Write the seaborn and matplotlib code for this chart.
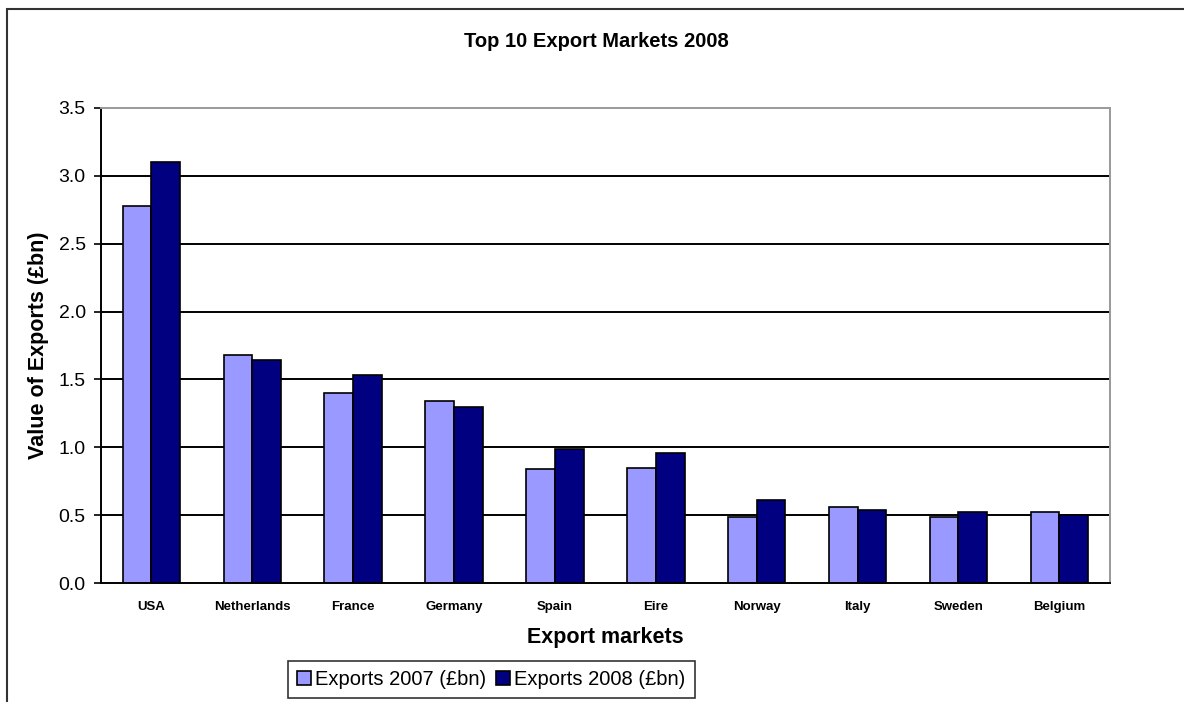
import numpy as np
import pandas as pd
import matplotlib.pyplot as plt
import seaborn as sns
from matplotlib.patches import Rectangle

markets = ["USA", "Netherlands", "France", "Germany", "Spain",
           "Eire", "Norway", "Italy", "Sweden", "Belgium"]
exports_2007 = [2.78, 1.68, 1.40, 1.34, 0.84, 0.85, 0.49, 0.56, 0.49, 0.52]
exports_2008 = [3.10, 1.64, 1.53, 1.30, 0.99, 0.96, 0.61, 0.54, 0.52, 0.50]
series_names = ["Exports 2007 (£bn)", "Exports 2008 (£bn)"]
y_ticks = [0.0, 0.5, 1.0, 1.5, 2.0, 2.5, 3.0, 3.5]


def run_export_chart():

    df = pd.DataFrame({
        "market": markets * 2,
        "value": exports_2007 + exports_2008,
        "series": [series_names[0]] * len(markets) + [series_names[1]] * len(markets)
    })

    sns.set_style("white")
    plt.rcParams["font.family"] = ["Liberation Sans", "DejaVu Sans"]
    plt.rcParams["text.color"] = "black"
    plt.rcParams["axes.labelcolor"] = "black"
    plt.rcParams["xtick.color"] = "black"
    plt.rcParams["ytick.color"] = "black"

    fig = plt.figure(figsize=(11.84, 7.02), dpi=100)
    ax = fig.add_axes([0.0853, 0.1695, 0.852, 0.6767])

    for y in y_ticks[1:-1]:
        ax.axhline(y, color="black", linewidth=1.4, zorder=0)

    sns.barplot(
        data=df,
        x="market",
        y="value",
        hue="series",
        palette=["#9999FF", "#000080"],
        width=0.571,
        edgecolor="black",
        linewidth=1.2,
        saturation=1,
        ax=ax,
        zorder=2
    )

    ax.set_ylim(0, 3.5)
    ax.set_xlim(-0.5, len(markets) - 0.5)
    ax.set_yticks(y_ticks)
    ax.set_yticklabels([f"{v:.1f}" for v in y_ticks], fontsize=14)
    ax.set_xticks(range(len(markets)))
    ax.set_xticklabels(markets, fontsize=9.5, fontweight="bold")
    ax.set_xticks(np.arange(-0.5, len(markets), 1), minor=True)
    ax.tick_params(axis="x", which="major", length=0, pad=13)
    ax.tick_params(axis="x", which="minor", length=5, width=1.2, direction="out")
    ax.tick_params(axis="y", length=5, width=1.2, direction="out", left=True, pad=6)

    for side in ["left", "bottom"]:
        ax.spines[side].set_color("black")
        ax.spines[side].set_linewidth(1.4)
    for side in ["top", "right"]:
        ax.spines[side].set_visible(True)
        ax.spines[side].set_color("#999999")
        ax.spines[side].set_linewidth(1.4)

    ax.set_xlabel("Export markets", fontsize=15.5, fontweight="bold", labelpad=10)
    ax.set_ylabel("Value of Exports (£bn)", fontsize=15.5, fontweight="bold", labelpad=7)
    fig.text(0.504, 0.941, "Top 10 Export Markets 2008",
             ha="center", va="center", fontsize=14.5, fontweight="bold")

    handles, labels = ax.get_legend_handles_labels()
    ax.get_legend().remove()
    leg = fig.legend(
        handles, labels,
        loc="center",
        bbox_to_anchor=(0.415, 0.032),
        ncol=2,
        fontsize=14.5,
        frameon=True,
        fancybox=False,
        edgecolor="black",
        handlelength=0.7,
        handleheight=0.7,
        handletextpad=0.2,
        columnspacing=0.5,
        borderpad=0.45,
        borderaxespad=0
    )
    leg.get_frame().set_linewidth(1.2)

    fig.patches.append(Rectangle(
        (7 / 1184, -0.05), 1.1, 1.05 - 9 / 702,
        transform=fig.transFigure, fill=False,
        edgecolor="#333333", linewidth=1.5, zorder=0
    ))

    fig.savefig("out.png", dpi=100)
    plt.close(fig)


if __name__ == "__main__":

    run_export_chart()
